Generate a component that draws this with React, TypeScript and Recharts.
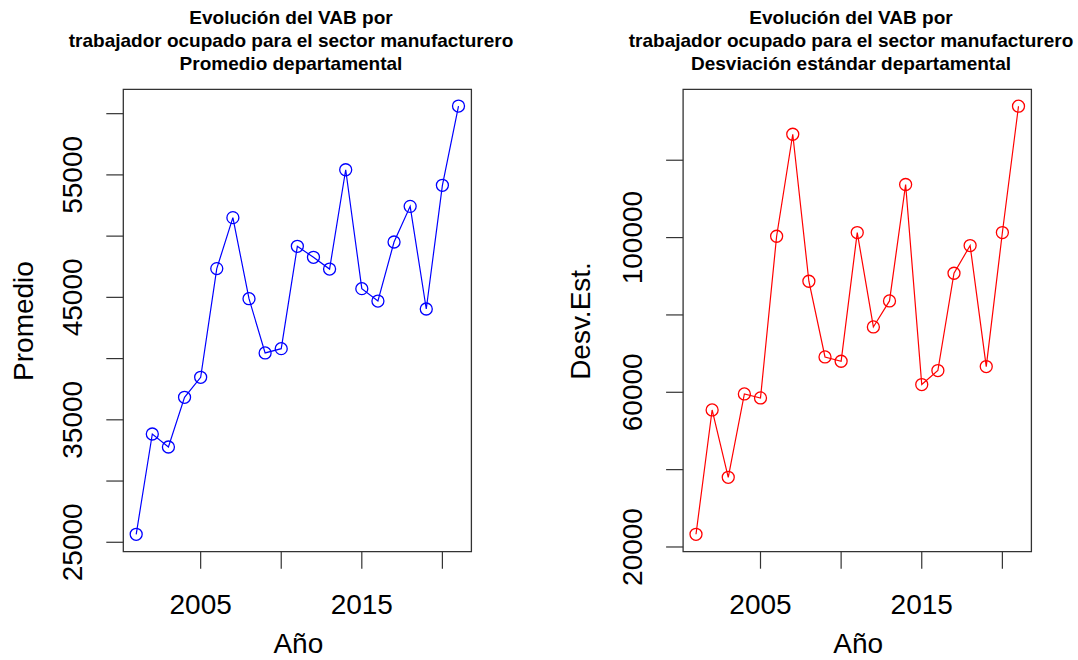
import { Line, LineChart, ReferenceArea, XAxis, YAxis } from "recharts";

const FONT = "'Liberation Sans', Arial, Helvetica, sans-serif";
const FRAME = "#333333";

const YEARS = [
  2001, 2002, 2003, 2004, 2005, 2006, 2007, 2008, 2009, 2010, 2011, 2012,
  2013, 2014, 2015, 2016, 2017, 2018, 2019, 2020, 2021,
];
// promedio departamental del VAB por trabajador
const PROMEDIO = [
  25650, 33840, 32780, 36840, 38470, 47350, 51510, 44890, 40460, 40810,
  49170, 48270, 47310, 55420, 45710, 44700, 49520, 52430, 44050, 54150,
  60620,
];
// desviación estándar departamental
const DESV_EST = [
  23280, 55430, 38020, 59570, 58530, 100340, 126720, 88710, 69130, 68020,
  101300, 76890, 83620, 113720, 62000, 65620, 90780, 97940, 66650, 101300,
  133970,
];

const X_TICKS = [2005, 2010, 2015, 2020];
const X_LABELED = [2005, 2015];
const PROMEDIO_TICKS = [25000, 30000, 35000, 40000, 45000, 50000, 55000, 60000];
const PROMEDIO_LABELED = [25000, 35000, 45000, 55000];
const DESV_TICKS = [20000, 40000, 60000, 80000, 100000, 120000];
const DESV_LABELED = [20000, 60000, 100000];

const TITLE = ["Evolución del VAB por", "trabajador ocupado para el sector manufacturero"];

type PanelProps = {
  pageX: number;
  width: number;
  plotLeft: number;
  plotRight: number;
  values: number[];
  yDomain: [number, number];
  yTicks: number[];
  yLabeled: number[];
  yTickX: number;
  yTitle: string;
  yTitleX: number;
  subtitle: string;
  titleX: number;
  color: string;
};

const PLOT_TOP = 89.3;
const PLOT_BOTTOM = 551.7;
const HEIGHT = 660;
const X_DOMAIN: [number, number] = [2000.2, 2021.8];

function Panel(p: PanelProps) {
  const data = YEARS.map((year, i) => ({ year, value: p.values[i] }));
  const plotCenter = (p.plotLeft + p.plotRight) / 2;

  return (
    <div style={{ position: "absolute", left: p.pageX, top: 0, width: p.width, height: HEIGHT }}>
      <div
        style={{
          position: "absolute",
          left: p.titleX - 250,
          width: 500,
          top: 5.5,
          textAlign: "center",
          fontFamily: FONT,
          fontWeight: "bold",
          fontSize: 19,
          lineHeight: "23px",
          color: "#000",
          whiteSpace: "nowrap",
        }}
      >
        {[...TITLE, p.subtitle].map((line) => (
          <div key={line}>{line}</div>
        ))}
      </div>

      <LineChart
        width={p.width}
        height={HEIGHT}
        data={data}
        margin={{
          top: PLOT_TOP,
          bottom: HEIGHT - PLOT_BOTTOM - 60,
          left: p.plotLeft - 60,
          right: p.width - p.plotRight,
        }}
      >
        <XAxis
          dataKey="year"
          type="number"
          domain={X_DOMAIN}
          ticks={X_TICKS}
          interval={0}
          allowDataOverflow
          height={60}
          axisLine={false}
          tickSize={17}
          tickLine={{ stroke: FRAME, strokeWidth: 1.2 }}
          tick={(props: any) =>
            X_LABELED.includes(props.payload.value) ? (
              <text
                x={props.x}
                y={614}
                textAnchor="middle"
                fontFamily={FONT}
                fontSize={28}
                fill="#000"
              >
                {props.payload.value}
              </text>
            ) : (
              <g />
            )
          }
        />
        <YAxis
          type="number"
          domain={p.yDomain}
          ticks={p.yTicks}
          interval={0}
          allowDataOverflow
          width={60}
          axisLine={false}
          tickSize={17}
          tickLine={{ stroke: FRAME, strokeWidth: 1.2 }}
          tick={(props: any) =>
            p.yLabeled.includes(props.payload.value) ? (
              <text
                x={p.yTickX}
                y={props.y}
                transform={`rotate(-90 ${p.yTickX} ${props.y})`}
                textAnchor="middle"
                dominantBaseline="central"
                fontFamily={FONT}
                fontSize={28}
                fill="#000"
              >
                {props.payload.value}
              </text>
            ) : (
              <g />
            )
          }
        />
        <ReferenceArea
          x1={X_DOMAIN[0]}
          x2={X_DOMAIN[1]}
          y1={p.yDomain[0]}
          y2={p.yDomain[1]}
          fill="none"
          stroke={FRAME}
          strokeWidth={1.3}
          ifOverflow="visible"
        />
        <Line
          type="linear"
          dataKey="value"
          stroke={p.color}
          strokeWidth={1.2}
          dot={{ r: 6, fill: "none", stroke: p.color, strokeWidth: 1.3 }}
          activeDot={false}
          isAnimationActive={false}
        />
      </LineChart>

      <div
        style={{
          position: "absolute",
          left: p.yTitleX,
          top: (PLOT_TOP + PLOT_BOTTOM) / 2,
          transform: "translate(-50%, -50%) rotate(-90deg)",
          fontFamily: FONT,
          fontSize: 28,
          lineHeight: "28px",
          whiteSpace: "nowrap",
          color: "#000",
        }}
      >
        {p.yTitle}
      </div>
      <div
        style={{
          position: "absolute",
          left: plotCenter + 1,
          top: 643.5,
          transform: "translate(-50%, -50%)",
          fontFamily: FONT,
          fontSize: 28,
          lineHeight: "28px",
          whiteSpace: "nowrap",
          color: "#000",
        }}
      >
        Año
      </div>
    </div>
  );
}

export default function App() {
  return (
    <div
      style={{
        position: "absolute",
        left: 0,
        top: 0,
        width: 1078,
        height: 660,
        background: "#fff",
        overflow: "hidden",
      }}
    >
      <Panel
        pageX={0}
        width={540}
        plotLeft={123.3}
        plotRight={471.4}
        values={PROMEDIO}
        yDomain={[24230, 61990]}
        yTicks={PROMEDIO_TICKS}
        yLabeled={PROMEDIO_LABELED}
        yTickX={73}
        yTitle="Promedio"
        yTitleX={24}
        subtitle="Promedio departamental"
        titleX={291}
        color="#0000ff"
      />
      <Panel
        pageX={540}
        width={538}
        plotLeft={143.1}
        plotRight={491.4}
        values={DESV_EST}
        yDomain={[18780, 138340]}
        yTicks={DESV_TICKS}
        yLabeled={DESV_LABELED}
        yTickX={93}
        yTitle="Desv.Est."
        yTitleX={41}
        subtitle="Desviación estándar departamental"
        titleX={311}
        color="#ff0000"
      />
    </div>
  );
}
